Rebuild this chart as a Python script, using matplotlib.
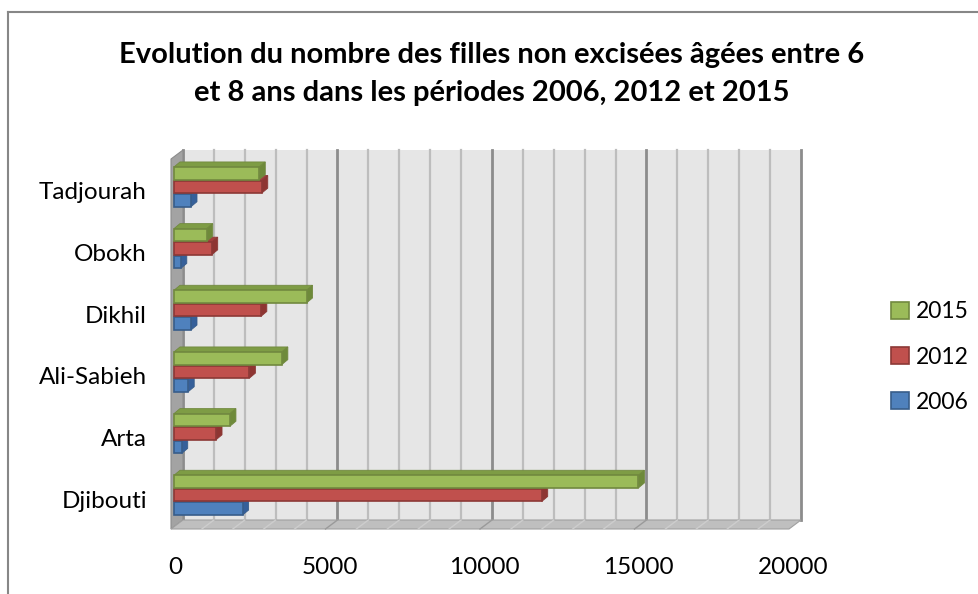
import matplotlib
matplotlib.use('Agg')
import matplotlib.pyplot as plt
from matplotlib.patches import Polygon, Rectangle, Patch
from matplotlib.lines import Line2D

plt.rcParams['font.family'] = ['Lato', 'DejaVu Sans']

# data
regions = ['Djibouti', 'Arta', 'Ali-Sabieh', 'Dikhil', 'Obokh', 'Tadjourah']
series = ['2006', '2012', '2015']
values_2006 = [2220, 250, 460, 550, 220, 550]
values_2012 = [11900, 1360, 2440, 2810, 1220, 2840]
values_2015 = [15030, 1810, 3490, 4290, 1060, 2760]
x_ticks = [0, 5000, 10000, 15000, 20000]

face_colors = {'2006': '#4F81BD', '2012': '#C0504D', '2015': '#9BBB59'}
top_colors = {'2006': '#3F6DA6', '2012': '#A13F3C', '2015': '#7E9C45'}
side_colors = {'2006': '#36609A', '2012': '#8E3532', '2015': '#6E8A3A'}
edge_colors = {'2006': '#385D8A', '2012': '#8C3836', '2015': '#71893F'}

W, H = 979, 594
fig = plt.figure(figsize=(W / 100, H / 100), dpi=100)

# front plane of the 3d box in pixels
x0_px, x1_px = 171, 789
y_bot_px, y_top_px = 529, 159
ax = fig.add_axes([x0_px / W, (H - y_bot_px) / H, (x1_px - x0_px) / W, (y_bot_px - y_top_px) / H])
xmax = 20000
ax.set_xlim(0, xmax)
ax.set_ylim(-0.5, len(regions) - 0.5)
ax.axis('off')

ppx = (x1_px - x0_px) / xmax          # pixels per data unit in x
ppy = (y_bot_px - y_top_px) / len(regions)  # pixels per category


def dx(px):
    return px / ppx


def dy(px):
    return px / ppy


# wall depth
wdx, wdy = dx(12), dy(9)
ylo, yhi = -0.5, len(regions) - 0.5

# back wall
ax.add_patch(Rectangle((wdx, ylo + wdy), xmax, yhi - ylo, facecolor='#E6E6E6',
                       edgecolor='none', clip_on=False, zorder=0))
for v in range(0, xmax + 1, 1000):
    major = v % 5000 == 0
    ax.add_line(Line2D([v + wdx, v + wdx], [ylo + wdy, yhi + wdy],
                       color='#8C8C8C' if major else '#BDBDBD',
                       lw=2 if major else 1.6, clip_on=False, zorder=1))

# left side wall
ax.add_patch(Polygon([(0, ylo), (wdx, ylo + wdy), (wdx, yhi + wdy), (0, yhi)],
                     closed=True, facecolor='#A3A3A3', edgecolor='#8C8C8C', lw=0.8,
                     clip_on=False, zorder=2))

# floor
ax.add_patch(Polygon([(0, ylo), (xmax, ylo), (xmax + wdx, ylo + wdy), (wdx, ylo + wdy)],
                     closed=True, facecolor='#BFBFBF', edgecolor='#A0A0A0', lw=0.8,
                     clip_on=False, zorder=2))
for v in range(1000, xmax, 1000):
    major = v % 5000 == 0
    ax.add_line(Line2D([v, v + wdx], [ylo, ylo + wdy],
                       color='#9A9A9A' if major else '#CDCDCD', lw=1,
                       clip_on=False, zorder=2))

# bars
bar_h = 0.205
offsets = {'2006': -0.22, '2012': 0.0, '2015': 0.22}
data = {'2006': values_2006, '2012': values_2012, '2015': values_2015}
bx0, by0 = dx(3), dy(3)        # bar plane inside the box
bdx, bdy = dx(6), dy(5)        # bar depth

z = 3
for i, reg in enumerate(regions):
    for s in series:
        v = data[s][i]
        c = i + offsets[s] + by0
        bot, top = c - bar_h / 2, c + bar_h / 2
        left, right = bx0, bx0 + v
        # top face
        ax.add_patch(Polygon([(left, top), (right, top), (right + bdx, top + bdy), (left + bdx, top + bdy)],
                             closed=True, facecolor=top_colors[s], edgecolor=edge_colors[s],
                             lw=0.6, clip_on=False, zorder=z))
        # side face
        ax.add_patch(Polygon([(right, bot), (right + bdx, bot + bdy), (right + bdx, top + bdy), (right, top)],
                             closed=True, facecolor=side_colors[s], edgecolor=edge_colors[s],
                             lw=0.6, clip_on=False, zorder=z))
        # front face
        ax.add_patch(Rectangle((left, bot), v, bar_h, facecolor=face_colors[s],
                               edgecolor=edge_colors[s], lw=1.2, clip_on=False, zorder=z + 0.5))
        z += 1

# category labels
for i, reg in enumerate(regions):
    ax.text(-dx(24), i + dy(-3), reg, ha='right', va='center', fontsize=17.5, color='black')

# value axis labels
for t in x_ticks:
    ax.text(t + dx(4), ylo - dy(38), str(t), ha='center', va='center', fontsize=17.5, color='black')

# legend
handles = [Patch(facecolor=face_colors[s], edgecolor=edge_colors[s], lw=1.2, label=s)
           for s in reversed(series)]
fig.legend(handles=handles, loc='center left', bbox_to_anchor=(891 / W, 1 - 357 / H),
           frameon=False, fontsize=16.5, handlelength=0.8, handleheight=0.8,
           handletextpad=0.3, labelspacing=1.05, borderpad=0, borderaxespad=0)

# title
fig.text(492 / W, 1 - 74 / H,
         'Evolution du nombre des filles non excisées âgées entre 6\n'
         'et 8 ans dans les périodes 2006, 2012 et 2015',
         ha='center', va='center', fontsize=21, fontweight='bold', linespacing=1.55)

# chart area border
fig.add_artist(Line2D([8 / W, 8 / W], [0, 1 - 12 / H], color='#878787', lw=1.5))
fig.add_artist(Line2D([8 / W, 1], [1 - 12 / H, 1 - 12 / H], color='#878787', lw=1.5))

fig.savefig('out.png', dpi=100)
